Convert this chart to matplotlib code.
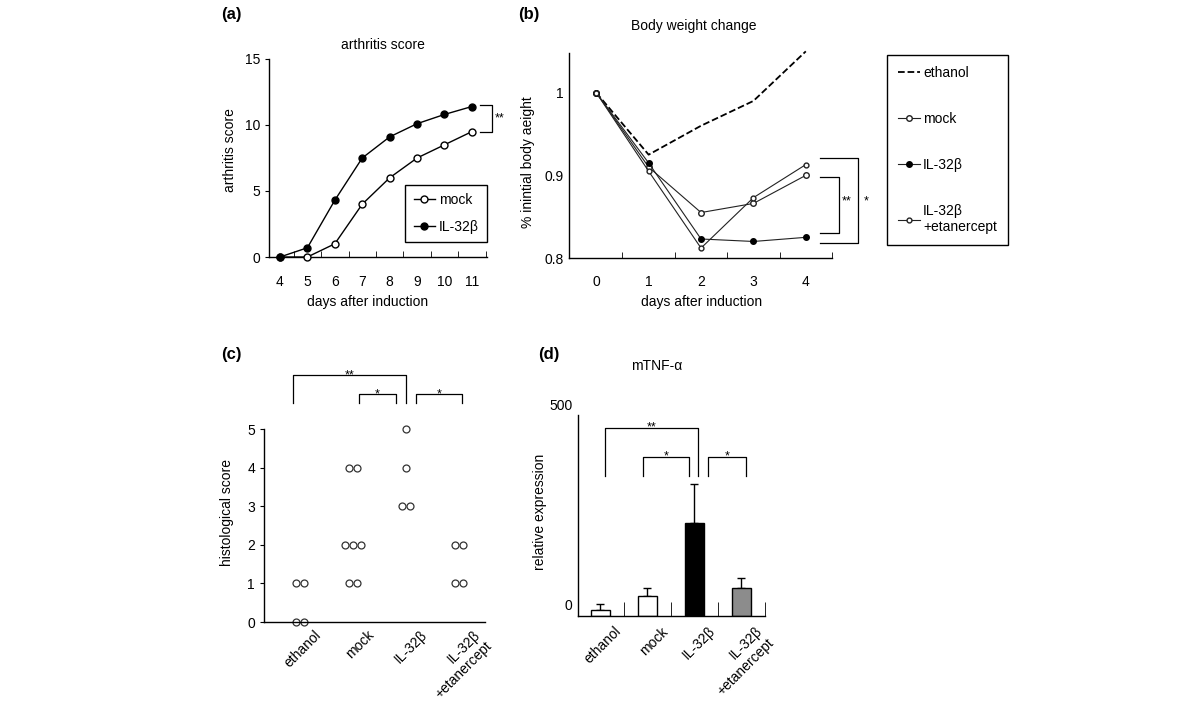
import numpy as np
import matplotlib
matplotlib.use('Agg')
import matplotlib.pyplot as plt
from matplotlib.transforms import ScaledTranslation

plt.rcParams['font.family'] = ['Liberation Sans', 'DejaVu Sans']
plt.rcParams['font.size'] = 10

# (a) arthritis score
days_a = [4, 5, 6, 7, 8, 9, 10, 11]
score_mock = [0, 0, 1.0, 4.0, 6.0, 7.5, 8.5, 9.5]
score_il32 = [0, 0.7, 4.3, 7.5, 9.1, 10.1, 10.8, 11.4]

# (b) body weight change
days_b = [0, 1, 2, 3, 4]
bw_ethanol = [1.0, 0.925, 0.96, 0.99, 1.05]
bw_mock = [1.0, 0.91, 0.855, 0.866, 0.90]
bw_il32 = [1.0, 0.915, 0.823, 0.82, 0.825]
bw_etan = [1.0, 0.905, 0.812, 0.873, 0.913]

groups = ['ethanol', 'mock', 'IL-32β', 'IL-32β\n+etanercept']

# (c) histological score, one value per animal
histo_ethanol = [1, 1, 0, 0]
histo_mock = [4, 4, 2, 2, 2, 1, 1]
histo_il32 = [5, 4, 3, 3]
histo_etan = [2, 2, 1, 1]

# (d) mTNF-alpha relative expression
tnf_mean = [15, 50, 231, 70]
tnf_err = [15, 20, 97, 25]
bar_colors = ['white', 'white', 'black', '#8c8c8c']

W, H = 1200, 716
fig = plt.figure(figsize=(W / 100, H / 100), dpi=100)


def px_axes(x0, y0, x1, y1):
    return fig.add_axes([x0 / W, 1 - y1 / H, (x1 - x0) / W, (y1 - y0) / H])


def ftext(x, y, s, **kw):
    return fig.text(x / W, 1 - y / H, s, **kw)


def clean(ax):
    ax.spines['top'].set_visible(False)
    ax.spines['right'].set_visible(False)
    for sp in ax.spines.values():
        sp.set_linewidth(1.0)


def bracket_h(ax, x0, x1, ytop, ybot, text):
    ax.plot([x0, x0, x1, x1], [ybot, ytop, ytop, ybot], color='black', lw=0.9, clip_on=False)
    ax.text((x0 + x1) / 2, ytop, text, ha='center', va='center', fontsize=9)


# ---------------- (a) ----------------
ax = px_axes(269, 59, 487, 257)
clean(ax)
ax.plot(days_a, score_mock, '-o', color='black', lw=1, ms=5, mfc='white', mec='black',
        label='mock', clip_on=False, zorder=3)
ax.plot(days_a, score_il32, '-o', color='black', lw=1, ms=5, mfc='black', mec='black',
        label='IL-32β', clip_on=False, zorder=3)
ax.set_xlim(3.6, 11.55)
ax.set_ylim(0, 15)
ax.set_xticks(days_a)
ax.set_xticks(np.arange(4.5, 12, 1), minor=True)
ax.tick_params(axis='x', which='major', length=0, pad=13)
ax.tick_params(axis='x', which='minor', direction='in', length=4)
ax.set_yticks([0, 5, 10, 15])
ax.tick_params(axis='y', length=3)
ax.legend(loc='upper right', bbox_to_anchor=(487 / W, 1 - 185 / H), bbox_transform=fig.transFigure,
          fancybox=False, edgecolor='black', framealpha=1, handlelength=1.5, handletextpad=0.3,
          labelspacing=0.9, borderpad=0.6, borderaxespad=0)
ax.plot([11.29, 11.73, 11.73, 11.29], [11.5, 11.5, 9.5, 9.5], color='black', lw=0.9, clip_on=False)
ax.text(11.85, 10.5, '**', ha='left', va='center', fontsize=9)
ftext(383, 45, 'arthritis score', ha='center', va='center')
ftext(368, 302, 'days after induction', ha='center', va='center')
ftext(230, 150, 'arthritis score', ha='center', va='center', rotation=90)
ftext(221, 14, '(a)', ha='left', va='center', fontsize=12, fontweight='bold')

# ---------------- (b) ----------------
ax = px_axes(569, 53, 832, 258)
clean(ax)
ax.plot(days_b, bw_ethanol, '--', color='black', lw=1.3, label='ethanol', clip_on=False)
ax.plot(days_b, bw_mock, '-o', color='#222222', lw=0.8, ms=4, mfc='white', mec='#222222',
        label='mock', clip_on=False)
ax.plot(days_b, bw_il32, '-o', color='#222222', lw=0.8, ms=4, mfc='black', mec='black',
        label='IL-32β', clip_on=False)
ax.plot(days_b, bw_etan, '-o', color='#222222', lw=0.8, ms=3.5, mfc='white', mec='#222222',
        label='IL-32β\n+etanercept', clip_on=False)
ax.set_xlim(-0.52, 4.47)
ax.set_ylim(0.8, 1.048)
ax.set_xticks(days_b)
ax.set_xticks(np.arange(0.5, 5, 1), minor=True)
ax.tick_params(axis='x', which='major', length=0, pad=12)
ax.tick_params(axis='x', which='minor', direction='in', length=4)
ax.set_yticks([0.8, 0.9, 1.0])
ax.set_yticklabels(['0.8', '0.9', '1'])
ax.tick_params(axis='y', length=0, pad=4)
ax.legend(loc='upper left', bbox_to_anchor=(887 / W, 1 - 55 / H), bbox_transform=fig.transFigure,
          fancybox=False, edgecolor='black', framealpha=1, handlelength=1.6, handletextpad=0.2,
          labelspacing=2.3, borderpad=0.8, borderaxespad=0)
ax.plot([4.28, 4.63, 4.63, 4.28], [0.898, 0.898, 0.830, 0.830], color='black', lw=0.9, clip_on=False)
ax.plot([4.28, 4.99, 4.99, 4.28], [0.921, 0.921, 0.818, 0.818], color='black', lw=0.9, clip_on=False)
ax.text(4.78, 0.868, '**', ha='center', va='center', fontsize=9)
ax.text(5.16, 0.868, '*', ha='center', va='center', fontsize=9)
ftext(694, 26, 'Body weight change', ha='center', va='center')
ftext(702, 302, 'days after induction', ha='center', va='center')
ftext(528, 162, '% inintial body aeight', ha='center', va='center', rotation=90)
ftext(518, 15, '(b)', ha='left', va='center', fontsize=12, fontweight='bold')

# ---------------- (c) ----------------
ax = px_axes(264, 429, 485, 622)
clean(ax)
for i, vals in enumerate([histo_ethanol, histo_mock, histo_il32, histo_etan]):
    pos = i + 1
    vals = np.array(vals)
    for v in np.unique(vals):
        n = int((vals == v).sum())
        xs = pos + (np.arange(n) - (n - 1) / 2) * 0.15
        ax.plot(xs, [v] * n, 'o', mfc='none', mec='#333333', ms=5, mew=0.9, clip_on=False)
ax.set_xlim(0.32, 4.49)
ax.set_ylim(0, 5)
ax.set_xticks([1, 2, 3, 4])
ax.set_xticklabels(groups, rotation=45, ha='right', va='top', rotation_mode='anchor')
ax.tick_params(axis='x', length=0, pad=4)
for lbl in ax.get_xticklabels():
    lbl.set_transform(lbl.get_transform() + ScaledTranslation(14 / 100, 0, fig.dpi_scale_trans))
ax.set_yticks([0, 1, 2, 3, 4, 5])
ax.tick_params(axis='y', length=3)
bracket_h(ax, 0.87, 3.0, 6.4, 5.67, '**')
bracket_h(ax, 2.11, 2.81, 5.9, 5.67, '*')
bracket_h(ax, 3.19, 4.06, 5.9, 5.67, '*')
ftext(227, 513, 'histological score', ha='center', va='center', rotation=90)
ftext(221, 355, '(c)', ha='left', va='center', fontsize=12, fontweight='bold')

# ---------------- (d) ----------------
ax = px_axes(578, 415, 765, 616)
clean(ax)
pos = np.arange(1, 5)
ax.bar(pos, tnf_mean, width=0.4, color=bar_colors, edgecolor='black', lw=1, zorder=2)
ax.errorbar(pos, tnf_mean, yerr=[np.zeros(4), tnf_err], fmt='none', ecolor='black',
            elinewidth=1, capsize=3, zorder=1)
ax.set_xlim(0.53, 4.5)
ax.set_ylim(0, 500)
ax.set_xticks(pos)
ax.set_xticklabels(groups, rotation=45, ha='right', va='top', rotation_mode='anchor')
ax.set_xticks(np.arange(1.5, 5, 1), minor=True)
ax.tick_params(axis='x', which='major', length=0, pad=6)
ax.tick_params(axis='x', which='minor', direction='in', length=10)
for lbl in ax.get_xticklabels():
    lbl.set_transform(lbl.get_transform() + ScaledTranslation(14 / 100, 0, fig.dpi_scale_trans))
ax.set_yticks([0, 500])
ax.tick_params(axis='y', length=0, pad=4)
for lbl in ax.get_yticklabels():
    lbl.set_transform(lbl.get_transform() + ScaledTranslation(0, 11 / 100, fig.dpi_scale_trans))
bracket_h(ax, 1.1, 3.08, 468, 348, '**')
bracket_h(ax, 1.91, 2.89, 396, 348, '*')
bracket_h(ax, 3.3, 4.1, 396, 348, '*')
ftext(657, 366, 'mTNF-α', ha='center', va='center')
ftext(540, 512, 'relative expression', ha='center', va='center', rotation=90)
ftext(538, 355, '(d)', ha='left', va='center', fontsize=12, fontweight='bold')

fig.savefig('out.png', dpi=100, facecolor='white')
